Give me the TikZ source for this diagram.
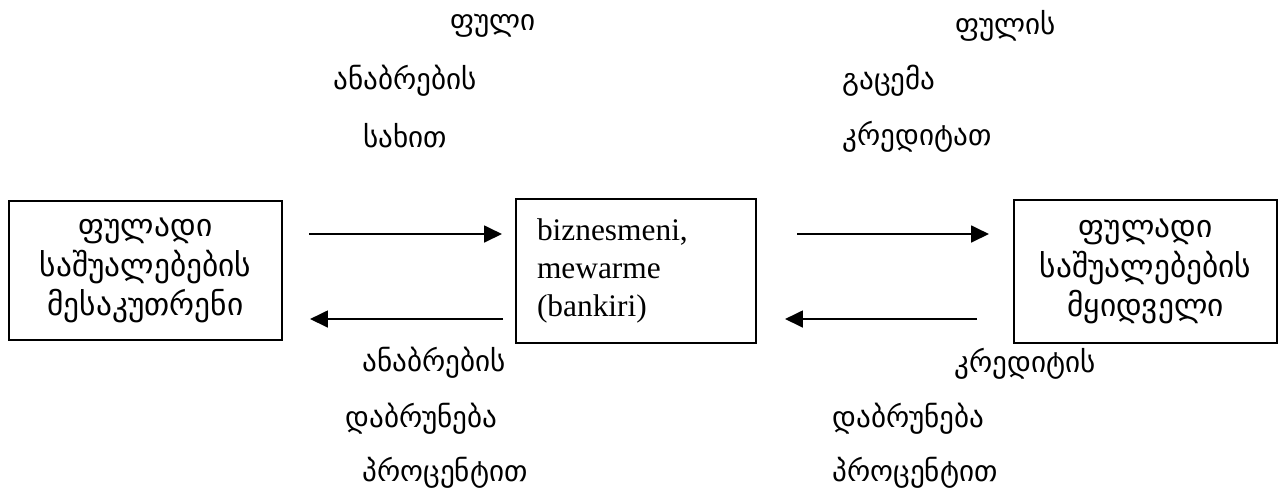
\documentclass[tikz,border=0pt]{standalone}
\usepackage{fontspec}
\setmainfont{Liberation Serif}
\newfontfamily\geo{DejaVu Sans}
\usetikzlibrary{arrows.meta}
\newlength\px
\setlength\px{0.446pt}
\begin{document}
\begin{tikzpicture}[x=\px,y=-\px]
	\useasboundingbox (0,0) rectangle (1281,493);
	\begin{scope}[every node/.style={draw=black, line width=0.9pt, font=\fontsize{14}{17}\selectfont}]
		\node[minimum width=273\px, minimum height=139\px, align=center, font=\geo\fontsize{14}{17.5}\selectfont] (own) at (145.5,270.5) {ფულადი\\საშუალებების\\მესაკუთრენი};
		\node[text width=198\px, inner xsep=21\px, minimum height=144\px, align=left] (bank) at (636,271) {biznesmeni,\\mewarme\\(bankiri)};
		\node[minimum width=263\px, minimum height=143\px, align=center, font=\geo\fontsize{14}{17.5}\selectfont] (buy) at (1145.5,271.5) {ფულადი\\საშუალებების\\მყიდველი};
	\end{scope}
	\begin{scope}[every node/.style={anchor=west, inner sep=0pt, font=\geo\fontsize{13}{15}\selectfont}]
		\node (dep1) at (450,26) {ფული};
		\node (dep2) at (333,81) {ანაბრების};
		\node (dep3) at (363,136) {სახით};
		\node (cr1) at (955,26) {ფულის};
		\node (cr2) at (842,81) {გაცემა};
		\node (cr3) at (842,137) {კრედიტათ};
		\node (ret1) at (362,363) {ანაბრების};
		\node (ret2) at (345,419) {დაბრუნება};
		\node (ret3) at (362,473) {პროცენტით};
		\node (rep1) at (954,364) {კრედიტის};
		\node (rep2) at (832,419) {დაბრუნება};
		\node (rep3) at (832,473) {პროცენტით};
	\end{scope}
	\coordinate (a) at (309,234);
	\coordinate (b) at (502,234);
	\coordinate (c) at (503,319);
	\coordinate (d) at (310,319);
	\coordinate (e) at (797,234);
	\coordinate (f) at (989,234);
	\coordinate (g) at (977,319);
	\coordinate (h) at (785,319);
	\begin{scope}[every edge/.style={draw=black, line width=1pt, -{Triangle[length=8pt,width=7.5pt]}}]
		\path (a) edge (b);
		\path (c) edge (d);
		\path (e) edge (f);
		\path (g) edge (h);
	\end{scope}
\end{tikzpicture}
\end{document}
